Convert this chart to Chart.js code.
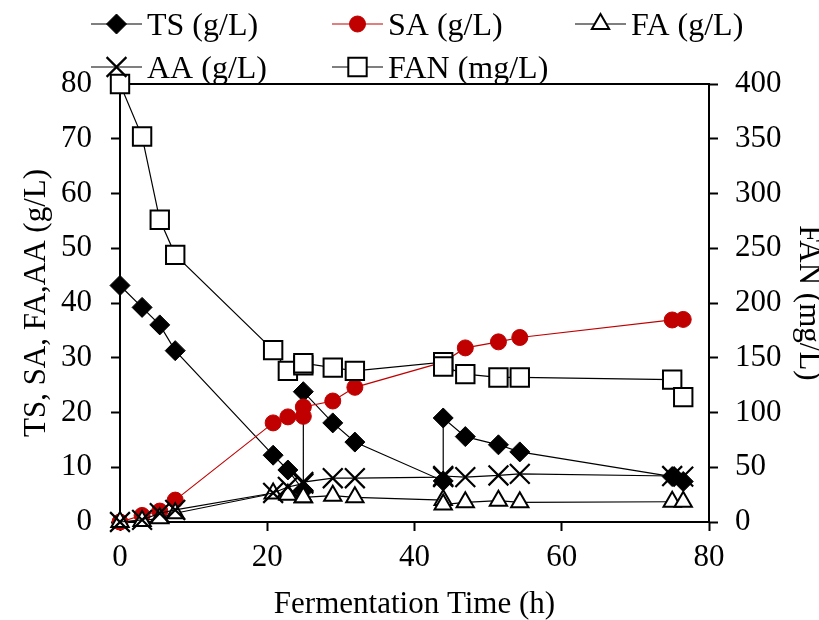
<!DOCTYPE html>
<html>
<head>
<meta charset="utf-8">
<script src="https://cdn.jsdelivr.net/npm/chart.js@4/dist/chart.umd.min.js"></script>
<style>
  html, body { margin: 0; padding: 0; background: #fff; }
</style>
</head>
<body>
<canvas id="chart" width="819" height="620"></canvas>
<script>
// Fermentation time (h) for each sample
const times = [0, 3, 5.4, 7.5, 20.8, 22.8, 24.9, 24.9, 28.9, 31.9, 43.9, 43.9, 46.9, 51.4, 54.3, 75, 76.5];

// Concentrations
const tsValues  = [43.2, 39.2, 36.0, 31.3, 12.2, 9.5, 5.8, 23.8, 18.1, 14.6, 7.5, 19.0, 15.6, 14.1, 12.8, 8.3, 7.4];
const saValues  = [0, 1.2, 2.0, 4.0, 18.1, 19.2, 19.3, 21.0, 22.1, 24.6, 29.2, 29.2, 31.8, 32.9, 33.7, 36.9, 37.0];
const faValues  = [0, 0.2, 0.7, 1.6, 5.2, 5.0, 4.5, 4.5, 4.8, 4.5, 4.0, 3.2, 3.6, 3.9, 3.6, 3.7, 3.7];
const aaValues  = [0, 0.4, 1.6, 2.2, 5.3, 6.4, 7.0, 7.3, 8.0, 8.0, 8.2, 8.4, 8.2, 8.5, 8.8, 8.4, 8.3];
const fanValues = [400, 352, 276, 244, 157, 138, 143, 145, 141, 138, 146, 142, 135, 132, 132, 130, 114];

const xTicks = [0, 20, 40, 60, 80];
const leftTicks = [0, 10, 20, 30, 40, 50, 60, 70, 80];
const rightTicks = [0, 50, 100, 150, 200, 250, 300, 350, 400];

const FONT = '"Liberation Serif", "Times New Roman", serif';
const RED = '#C00000';

function toPoints(values) {
    return values.map((v, i) => ({ x: times[i], y: v }));
}

// Legend drawn by hand so the two rows keep Excel's column layout
const legendSlots = [
    { ds: 0, x: 91, y: 24 },
    { ds: 1, x: 332, y: 24 },
    { ds: 2, x: 575, y: 24 },
    { ds: 3, x: 91, y: 67 },
    { ds: 4, x: 332, y: 67 }
];

const excelLegend = {
    id: 'excelLegend',
    afterDraw(chart) {
        const ctx = chart.ctx;
        ctx.save();
        legendSlots.forEach(slot => {
            const ds = chart.data.datasets[slot.ds];
            ctx.strokeStyle = ds.borderColor;
            ctx.lineWidth = ds.borderWidth;
            ctx.beginPath();
            ctx.moveTo(slot.x, slot.y);
            ctx.lineTo(slot.x + 51, slot.y);
            ctx.stroke();

            ctx.fillStyle = ds.pointBackgroundColor;
            ctx.strokeStyle = ds.pointBorderColor;
            ctx.lineWidth = ds.pointBorderWidth;
            Chart.helpers.drawPoint(ctx, {
                pointStyle: ds.pointStyle,
                radius: ds.pointRadius,
                rotation: 0,
                borderWidth: ds.pointBorderWidth
            }, slot.x + 25.5, slot.y);

            ctx.fillStyle = '#000';
            ctx.font = '32px ' + FONT;
            ctx.textBaseline = 'alphabetic';
            ctx.textAlign = 'left';
            ctx.fillText(ds.label, slot.x + 56, slot.y + 11);
        });
        ctx.restore();
    }
};

function axisTicks(values) {
    return function (scale) {
        scale.ticks = values.map(v => ({ value: v }));
    };
}

const ctx = document.getElementById('chart').getContext('2d');
new Chart(ctx, {
    type: 'line',
    data: {
        datasets: [
            {
                label: 'TS (g/L)', data: toPoints(tsValues), yAxisID: 'y', order: 5,
                borderColor: '#000', borderWidth: 1.2,
                pointStyle: 'rectRot', pointRadius: 10,
                pointBackgroundColor: '#000', pointBorderColor: '#000', pointBorderWidth: 1
            },
            {
                label: 'SA (g/L)', data: toPoints(saValues), yAxisID: 'y', order: 4,
                borderColor: RED, borderWidth: 1.2,
                pointStyle: 'circle', pointRadius: 8,
                pointBackgroundColor: RED, pointBorderColor: RED, pointBorderWidth: 1
            },
            {
                label: 'FA (g/L)', data: toPoints(faValues), yAxisID: 'y', order: 3,
                borderColor: '#000', borderWidth: 1.2,
                pointStyle: 'triangle', pointRadius: 10,
                pointBackgroundColor: '#fff', pointBorderColor: '#000', pointBorderWidth: 2
            },
            {
                label: 'AA (g/L)', data: toPoints(aaValues), yAxisID: 'y', order: 2,
                borderColor: '#000', borderWidth: 1.2,
                pointStyle: 'crossRot', pointRadius: 14,
                pointBackgroundColor: '#000', pointBorderColor: '#000', pointBorderWidth: 2.2
            },
            {
                label: 'FAN (mg/L)', data: toPoints(fanValues), yAxisID: 'y1', order: 1,
                borderColor: '#000', borderWidth: 1.2,
                pointStyle: 'rect', pointRadius: 13,
                pointBackgroundColor: '#fff', pointBorderColor: '#000', pointBorderWidth: 2
            }
        ]
    },
    options: {
        responsive: false,
        animation: false,
        clip: false,
        layout: { padding: { top: 84, left: 0, right: 0, bottom: 0 } },
        elements: { line: { tension: 0, fill: false } },
        plugins: { legend: { display: false }, tooltip: { enabled: false } },
        scales: {
            x: {
                type: 'linear', position: 'bottom', min: 0, max: 80,
                afterBuildTicks: axisTicks(xTicks),
                afterFit(scale) { scale.height = 98; },
                border: { display: true, color: '#000', width: 2 },
                grid: { drawOnChartArea: false, drawTicks: true, tickLength: 9, tickColor: '#000', tickWidth: 2 },
                ticks: { color: '#000', font: { family: FONT, size: 31 }, padding: 8, maxRotation: 0 },
                title: {
                    display: true, text: 'Fermentation Time (h)', color: '#000',
                    font: { family: FONT, size: 31, lineHeight: 1 }, padding: { top: 4, bottom: 0 }
                }
            },
            xTop: {
                type: 'linear', position: 'top', min: 0, max: 80,
                afterFit(scale) { scale.height = 0; },
                border: { display: true, color: '#000', width: 2 },
                grid: { display: false },
                ticks: { display: false }
            },
            y: {
                type: 'linear', position: 'left', min: 0, max: 80,
                afterBuildTicks: axisTicks(leftTicks),
                afterFit(scale) { scale.width = 120; },
                border: { display: true, color: '#000', width: 2 },
                grid: { drawOnChartArea: false, drawTicks: true, tickLength: 9, tickColor: '#000', tickWidth: 2 },
                ticks: { color: '#000', font: { family: FONT, size: 31 }, padding: 19 },
                title: {
                    display: true, text: 'TS, SA, FA,AA (g/L)', color: '#000',
                    font: { family: FONT, size: 31, lineHeight: 1 }, padding: { top: 21, bottom: 0 }
                }
            },
            y1: {
                type: 'linear', position: 'right', min: 0, max: 400,
                afterBuildTicks: axisTicks(rightTicks),
                afterFit(scale) { scale.width = 110; },
                border: { display: true, color: '#000', width: 2 },
                grid: { drawOnChartArea: false, drawTicks: true, tickLength: 9, tickColor: '#000', tickWidth: 2 },
                ticks: { color: '#000', font: { family: FONT, size: 31 }, padding: 17 },
                title: {
                    display: true, text: 'FAN (mg/L)', color: '#000',
                    font: { family: FONT, size: 31, lineHeight: 1 }, padding: { top: -5, bottom: 0 }
                }
            }
        }
    },
    plugins: [excelLegend]
});
</script>
</body>
</html>
